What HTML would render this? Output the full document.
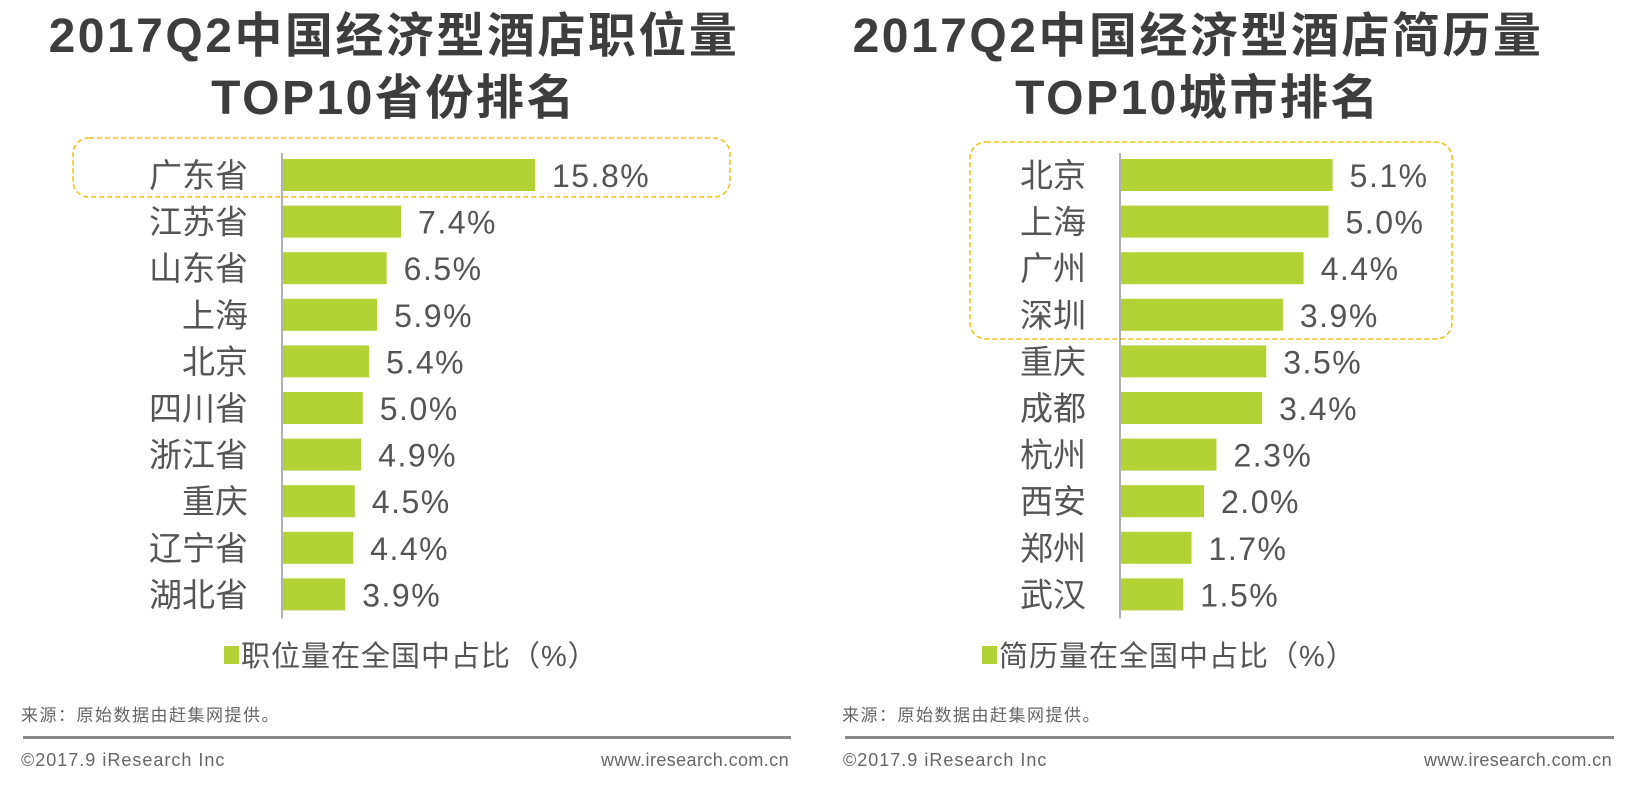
<!DOCTYPE html>
<html><head><meta charset="utf-8"><style>
body{margin:0;width:1627px;height:786px;background:#fff;overflow:hidden;position:relative;font-family:"Liberation Sans","Noto Sans CJK SC",sans-serif;color:#555}
.t{position:absolute;font-weight:bold;font-size:48px;letter-spacing:2.5px;color:#3d3d3d;text-align:center;white-space:nowrap;line-height:1}
.a{position:absolute;white-space:nowrap}
svg{position:absolute;left:0;top:0}
</style></head><body>
<div class="t" style="left:394px;top:13px;transform:translateX(-50%)">2017Q2中国经济型酒店职位量<br><span style="display:inline-block;margin-top:14px">TOP10省份排名</span></div>
<div class="t" style="left:1198px;top:13px;transform:translateX(-50%)">2017Q2中国经济型酒店简历量<br><span style="display:inline-block;margin-top:14px">TOP10城市排名</span></div>
<svg id="s" width="1627" height="786"></svg>
<div class="a" style="left:21px;top:701px;font-size:17px;letter-spacing:1.5px;color:#666">来源：原始数据由赶集网提供。</div>
<div class="a" style="left:842px;top:701px;font-size:17px;letter-spacing:1.5px;color:#666">来源：原始数据由赶集网提供。</div>
<div class="a" style="left:23px;top:736px;width:768px;height:3px;background:#888"></div>
<div class="a" style="left:845px;top:736px;width:769px;height:3px;background:#888"></div>
<div class="a" style="left:21px;top:750px;font-size:18px;letter-spacing:1px;color:#666">©2017.9 iResearch Inc</div>
<div class="a" style="right:838px;top:750px;font-size:18px;letter-spacing:0.4px;color:#666">www.iresearch.com.cn</div>
<div class="a" style="left:843px;top:750px;font-size:18px;letter-spacing:1px;color:#666">©2017.9 iResearch Inc</div>
<div class="a" style="right:15px;top:750px;font-size:18px;letter-spacing:0.4px;color:#666">www.iresearch.com.cn</div>
<script>
const leftCats=["广东省","江苏省","山东省","上海","北京","四川省","浙江省","重庆","辽宁省","湖北省"];
const leftVals=[15.8,7.4,6.5,5.9,5.4,5.0,4.9,4.5,4.4,3.9];
const rightCats=["北京","上海","广州","深圳","重庆","成都","杭州","西安","郑州","武汉"];
const rightVals=[5.1,5.0,4.4,3.9,3.5,3.4,2.3,2.0,1.7,1.5];
const leftLegend="职位量在全国中占比（%）";
const rightLegend="简历量在全国中占比（%）";
const NS="http://www.w3.org/2000/svg",s=document.getElementById('s');
function mk(t,a,p){const e=document.createElementNS(NS,t);for(const k in a)e.setAttribute(k,a[k]);(p||s).appendChild(e);return e;}
function chart(side,cats,vals,ax,scale,box,lx,legend){
  const y=i=>175+i*46.6;
  const b=mk('rect',{x:box[0],y:box[1],width:box[2],height:box[3],rx:16,fill:'none',stroke:'#f2c31b','stroke-width':1.6,'stroke-dasharray':'5,3'});
  
  
  const l=mk('line',{x1:ax,x2:ax,y1:y(0)-22,y2:y(cats.length-1)+24,stroke:'#666','stroke-width':1});
  
  
  cats.forEach((c,i)=>{
    const w=vals[i]*scale;
    const r=mk('rect',{x:ax+1,y:y(i)-16,width:w,height:32,fill:'#b2d235'});
    
    
    const t=mk('text',{x:ax-34,y:y(i)+12,'text-anchor':'end','font-size':33,fill:'#555'});t.textContent=c;
    
    
    const v=mk('text',{x:ax+w+18,y:y(i)+12,'font-size':32,'letter-spacing':1.5,fill:'#555'});v.textContent=vals[i].toFixed(1)+'%';
    
    
  });
  const sq=mk('rect',{x:lx,y:646,width:15,height:18,fill:'#b2d235'});
  
  
  const lt=mk('text',{x:lx+17,y:666,'font-size':29,'letter-spacing':1,fill:'#555'});lt.textContent=legend;
  
  
}
chart('left',leftCats,leftVals,282,15.95,[73,138,657,59],224,leftLegend);
chart('right',rightCats,rightVals,1120,41.5,[970,142,482,197],982,rightLegend);
</script>
</body></html>
